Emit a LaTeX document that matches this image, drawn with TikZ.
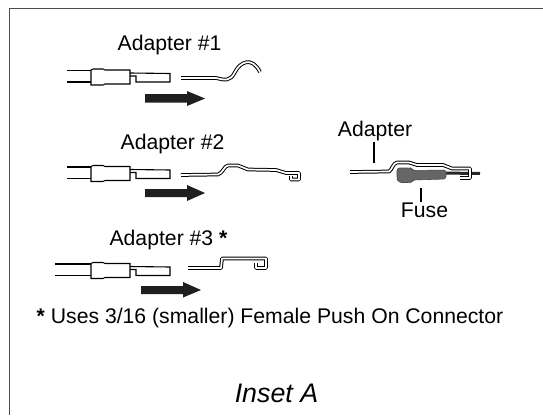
\documentclass[tikz,border=0pt]{standalone}
\usepackage{fontspec}
\setmainfont{Liberation Sans}
\begin{document}
\begin{tikzpicture}
[x=1pt,y=-1pt,
  labeldecorate/.style={font=\fontsize{21.2}{24}\selectfont,inner sep=0pt},%
  wiredecorate/.style={line width=1.1pt,black},%
  stripdecorate/.style={draw=black,double=white,double distance=1.7pt,line width=1pt,line join=round},%
  arrowdecorate/.style={fill=black!88,draw=none}]
\useasboundingbox (0,0) rectangle (543,415);
% frame
\draw[line width=1pt,black!70] (9,415) -- (9,8.5) -- (543,8.5);
% labels
\node (adapterone) at (169.5,45) [labeldecorate] {Adapter \#1};
\node (adaptertwo) at (172.5,144.5) [labeldecorate] {Adapter \#2};
\node (adapterthree) at (168.5,240.5) [labeldecorate] {Adapter \#3 \textbf{*}};
\node (adapterside) at (375,131.5) [labeldecorate] {Adapter};
\node (fuse) at (424.5,210) [labeldecorate] {Fuse};
\node (note) at (270,318.5) [labeldecorate] {\textbf{*} Uses 3/16 (smaller) Female Push On Connector};
\node (inset) at (276.5,393) [labeldecorate,font=\fontsize{26.8}{30}\selectfont\itshape] {Inset A};
% terminals
\foreach \yy/\xx in {0/67,96.5/67,193.5/55}
{
\draw[wiredecorate] (\xx,70.5+\yy) -- (91,70.5+\yy);
\draw[wiredecorate] (\xx,82+\yy) -- (91,82+\yy);
\draw[wiredecorate] (91,70+\yy) -- (93,69+\yy) -- (103,69+\yy) -- (105,70+\yy) -- (130,70+\yy) -- (130,84+\yy) -- (105,84+\yy) -- (103,85+\yy) -- (91,85+\yy) -- cycle;
\draw[wiredecorate] (130,73+\yy) -- (170,73.5+\yy) -- (170,82+\yy) -- (136,82+\yy) -- (136,76+\yy) -- (130,76+\yy);
}
% arrows
\fill[arrowdecorate] (145,94) -- (187,94) -- (187,91) -- (205,98.5) -- (187,106) -- (187,102.5) -- (145,102.5) -- cycle;
\fill[arrowdecorate] (145,189) -- (187,189) -- (187,185) -- (205,193) -- (187,201) -- (187,197) -- (145,197) -- cycle;
\fill[arrowdecorate] (141,286) -- (183,286) -- (183,282) -- (201,290) -- (183,297.5) -- (183,294) -- (141,294) -- cycle;
% adapters
\draw[stripdecorate] (181,78) -- (216,78) .. controls (225,80) and (230,82) .. (235,72) .. controls (240,62) and (252,56) .. (260,72);
\draw[stripdecorate] (181,175) -- (218,174.5) .. controls (223,173) and (224,166) .. (228,165.5) -- (238,165.5) -- (248,169.5) -- (276,170) -- (286,173) -- (299,173) -- (299,179.5) -- (291,179.5) -- (291,176);
\draw[stripdecorate] (188,268) -- (221,268) -- (222,258.5) -- (266,258.5) -- (266,268) -- (256,268) -- (256,263);
% installed adapter and fuse
\draw[line width=3pt,black!85] (440,173) -- (480,173.5);
\draw[fill=black!60,draw=black!70,line width=0.6pt,rounded corners=2.5pt] (397,168) -- (411,168) -- (413,170.5) -- (446,170) -- (446,179) -- (413,180) -- (411,182.5) -- (399,182.5) -- (397,179) -- cycle;
\draw[stripdecorate] (350,172) -- (389,171.5) .. controls (392,170) and (393,163) .. (397,162.5) -- (409,162.5) -- (417,165) -- (443,165) -- (452,168.5) -- (470,168.5) -- (470,178) -- (460,178);
% leaders
\coordinate (adaptertip) at (374,163);
\coordinate (fusetip) at (421,188);
\path
(adapterside.south -| adaptertip) edge[wiredecorate] node {} (adaptertip)
(fuse.north -| fusetip) edge[wiredecorate] node {} (fusetip);
\end{tikzpicture}
\end{document}
